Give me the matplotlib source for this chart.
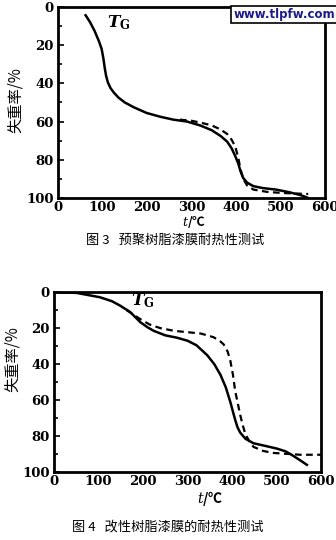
import matplotlib.pyplot as plt
from matplotlib.ticker import MultipleLocator

plt.rcParams['font.family'] = ['DejaVu Serif', 'Noto Sans CJK SC']
plt.rcParams['mathtext.fontset'] = 'dejavuserif'

# 图3 数据
t3_solid = [62, 72, 82, 92, 98, 102, 105, 108, 112, 118, 126, 136, 150, 170, 199, 230, 259, 290, 319,
            345, 365, 380, 390, 398, 405, 410, 416, 425, 439, 460, 490, 520, 545, 560]
w3_solid = [4.4, 8, 12.5, 18, 22, 27, 32, 36, 39.5, 42.5, 45, 47.5, 50, 52.5, 55.5, 57.5, 59, 60, 62,
            64.5, 67.5, 70.5, 74, 78, 82, 86, 89.5, 92, 93.8, 94.8, 95.6, 97, 98.5, 99.8]
t3_dash = [274, 300, 319, 345, 364, 380, 390, 398, 405, 410, 416, 425, 439, 470, 506, 562]
w3_dash = [59, 59.6, 60.5, 62, 64, 66.5, 69.5, 73, 79, 85, 90, 93.5, 95.6, 96.8, 97.4, 97.9]

# 图4 数据
t4_solid = [0, 51, 103, 130, 148, 171, 194, 210, 224, 250, 276, 300, 320, 344, 360, 374, 386, 396, 402,
            407, 412, 418, 430, 448, 475, 501, 520, 531, 550, 568]
w4_solid = [0, 0.4, 2.8, 5, 7.4, 11, 16.7, 19.5, 21.5, 24, 25.3, 27, 29.5, 35, 40, 46, 53, 61, 66.5,
            71, 75, 78, 81.5, 84, 85.5, 87, 88.5, 90, 93, 96]
t4_dash = [163, 194, 215, 239, 270, 298, 330, 358, 372, 381, 390, 396, 402, 407, 413, 418, 424, 430,
           440, 448, 470, 493, 553, 600]
w4_dash = [10, 15, 18, 20, 21.5, 22.2, 23, 25, 27, 29, 33, 38, 46, 55, 62, 68, 74, 79,
           83.5, 86, 88.3, 89.4, 90.4, 90.4]

xticks = [0, 100, 200, 300, 400, 500, 600]
yticks = [0, 20, 40, 60, 80, 100]

fig = plt.figure(figsize=(3.36, 5.40), dpi=100)


def style(ax):
    ax.set_xlim(0, 600)
    ax.set_ylim(100, 0)
    ax.set_xticks(xticks)
    ax.set_yticks(yticks)
    ax.yaxis.set_minor_locator(MultipleLocator(10))
    ax.tick_params(direction='in', length=4, width=1.2, labelsize=9.5, pad=3)
    ax.tick_params(axis='x', length=0, pad=2)
    ax.tick_params(which='minor', direction='in', length=3, width=1.2)
    for lab in ax.get_xticklabels() + ax.get_yticklabels():
        lab.set_fontweight('bold')
    for s in ax.spines.values():
        s.set_linewidth(2)


ax1 = fig.add_axes([0.1726, 0.6333, 0.795, 0.354])
ax1.plot(t3_solid, w3_solid, color='black', lw=1.8)
ax1.plot(t3_dash, w3_dash, color='black', lw=1.6, ls=(0, (3, 2)))
style(ax1)
ax1.text(109, 10.5, r'$\boldsymbol{T}_{\mathbf{G}}$', fontsize=12)

ax2 = fig.add_axes([0.1607, 0.1259, 0.795, 0.333])
ax2.plot(t4_solid, w4_solid, color='black', lw=1.8)
ax2.plot(t4_dash, w4_dash, color='black', lw=1.6, ls=(0, (3, 2)))
style(ax2)
ax2.text(172, 7.5, r'$\boldsymbol{T}_{\mathbf{G}}$', fontsize=12)

cjk = ['Noto Sans CJK SC', 'DejaVu Sans']
fig.text(0.045, 0.815, '失重率/%', rotation=90, ha='center', va='center', fontsize=11, family=cjk)
fig.text(0.037, 0.335, '失重率/%', rotation=90, ha='center', va='center', fontsize=11, family=cjk)
fig.text(0.578, 0.588, r'$t$/℃', ha='center', va='center', fontsize=9, family=cjk, fontweight='bold')
fig.text(0.625, 0.077, r'$t$/℃', ha='center', va='center', fontsize=10, family=cjk, fontweight='bold')
fig.text(0.52, 0.555, '图 3   预聚树脂漆膜耐热性测试', ha='center', va='center', fontsize=9.5, family=cjk)
fig.text(0.5, 0.024, '图 4   改性树脂漆膜的耐热性测试', ha='center', va='center', fontsize=9.5, family=cjk)

fig.text(0.845, 0.973, 'www.tlpfw.com', ha='center', va='center', fontsize=8.5, color='#1a1a8c',
         fontweight='bold', family='DejaVu Sans',
         bbox=dict(boxstyle='square,pad=0.2', fc='white', ec='black', lw=1.2))

fig.savefig('out.png', dpi=100)
